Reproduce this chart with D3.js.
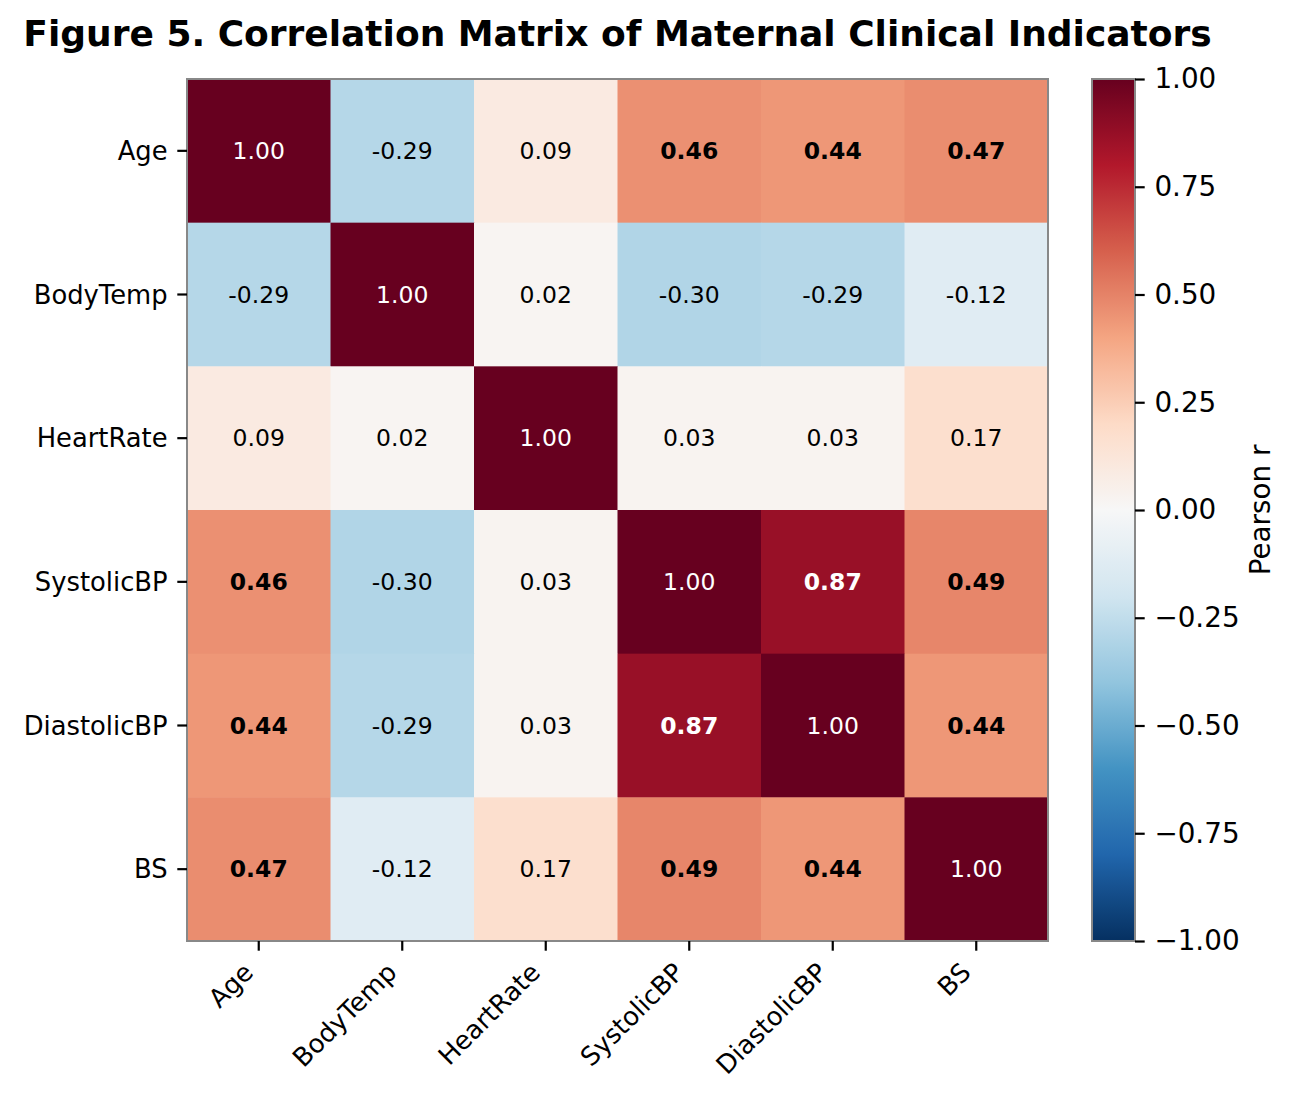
<!DOCTYPE html>
<html>
<head>
<meta charset="utf-8">
<script src="https://cdn.jsdelivr.net/npm/d3@7"></script>
<style>
  body { margin: 0; background: #fff; }
  svg text { font-family: "DejaVu Sans", sans-serif; }
</style>
</head>
<body>
<div id="chart"></div>
<script>
// variables in row/column order
const variables = ["Age", "BodyTemp", "HeartRate", "SystolicBP", "DiastolicBP", "BS"];

// correlation matrix rows
const rowAge         = [1.00, -0.29, 0.09, 0.46, 0.44, 0.47];
const rowBodyTemp    = [-0.29, 1.00, 0.02, -0.30, -0.29, -0.12];
const rowHeartRate   = [0.09, 0.02, 1.00, 0.03, 0.03, 0.17];
const rowSystolicBP  = [0.46, -0.30, 0.03, 1.00, 0.87, 0.49];
const rowDiastolicBP = [0.44, -0.29, 0.03, 0.87, 1.00, 0.44];
const rowBS          = [0.47, -0.12, 0.17, 0.49, 0.44, 1.00];
const matrix = [rowAge, rowBodyTemp, rowHeartRate, rowSystolicBP, rowDiastolicBP, rowBS];

// colorbar ticks
const cbarTicks = [1.00, 0.75, 0.50, 0.25, 0.00, -0.25, -0.50, -0.75, -1.00];

// RdBu_r, matplotlib style (linear between the 11 brewer colors)
const rdbu = ["#053061", "#2166ac", "#4393c3", "#92c5de", "#d1e5f0", "#f7f7f7",
              "#fddbc7", "#f4a582", "#d6604d", "#b2182b", "#67001f"];

const W = 1306, H = 1104;
const margin = {top: 79, left: 187};
const plotW = 861, plotH = 862;

const svg = d3.select("#chart").append("svg")
  .attr("width", W)
  .attr("height", H);

const color = d3.scaleLinear()
  .domain(d3.range(11).map(i => -1 + i * 0.2))
  .range(rdbu)
  .interpolate(d3.interpolateRgb)
  .clamp(true);

const x = d3.scaleBand().domain(variables).range([0, plotW]);
const y = d3.scaleBand().domain(variables).range([0, plotH]);

// title
svg.append("text")
  .attr("x", margin.left + plotW / 2)
  .attr("y", 46)
  .attr("text-anchor", "middle")
  .attr("font-size", 36)
  .attr("font-weight", "bold")
  .text("Figure 5. Correlation Matrix of Maternal Clinical Indicators");

const g = svg.append("g")
  .attr("transform", "translate(" + margin.left + "," + margin.top + ")");

// flatten cells
const cells = [];
matrix.forEach((row, i) => {
  row.forEach((v, j) => {
    cells.push({row: variables[i], col: variables[j], value: v, diag: i === j});
  });
});

g.selectAll("rect.cell")
  .data(cells)
  .enter().append("rect")
  .attr("class", "cell")
  .attr("x", d => x(d.col))
  .attr("y", d => y(d.row))
  .attr("width", x.bandwidth() + 0.5)
  .attr("height", y.bandwidth() + 0.5)
  .attr("fill", d => color(d.value));

g.selectAll("text.val")
  .data(cells)
  .enter().append("text")
  .attr("class", "val")
  .attr("x", d => x(d.col) + x.bandwidth() / 2)
  .attr("y", d => y(d.row) + y.bandwidth() / 2)
  .attr("text-anchor", "middle")
  .attr("dominant-baseline", "central")
  .attr("font-size", 23.5)
  .attr("font-weight", d => (!d.diag && Math.abs(d.value) >= 0.4) ? "bold" : "normal")
  .attr("fill", d => Math.abs(d.value) > 0.6 ? "#ffffff" : "#000000")
  .text(d => d.value.toFixed(2));

// frame
g.append("rect")
  .attr("width", plotW)
  .attr("height", plotH)
  .attr("fill", "none")
  .attr("stroke", "#888888")
  .attr("stroke-width", 2);

// y axis ticks + labels
const tickLen = 9.7;
const yTicks = g.selectAll("g.ytick")
  .data(variables)
  .enter().append("g")
  .attr("class", "ytick")
  .attr("transform", d => "translate(0," + (y(d) + y.bandwidth() / 2) + ")");
yTicks.append("line")
  .attr("x1", -tickLen).attr("x2", 0)
  .attr("stroke", "#000").attr("stroke-width", 2.2);
yTicks.append("text")
  .attr("x", -tickLen - 9.7)
  .attr("text-anchor", "end")
  .attr("dominant-baseline", "central")
  .attr("font-size", 25.8)
  .text(d => d);

// x axis ticks + rotated labels
const xTicks = g.selectAll("g.xtick")
  .data(variables)
  .enter().append("g")
  .attr("class", "xtick")
  .attr("transform", d => "translate(" + (x(d) + x.bandwidth() / 2) + "," + plotH + ")");
xTicks.append("line")
  .attr("y1", 0).attr("y2", tickLen)
  .attr("stroke", "#000").attr("stroke-width", 2.2);
xTicks.append("text")
  .attr("text-anchor", "end")
  .attr("font-size", 25.8)
  .attr("transform", "translate(-4," + (tickLen + 9.7 + 13.5) + ") rotate(-45)")
  .text(d => d);

// colorbar
const cb = {x: 1092, y: 79, w: 43, h: 862};
const cScale = d3.scaleLinear().domain([-1, 1]).range([cb.h, 0]);

const defs = svg.append("defs");
const grad = defs.append("linearGradient")
  .attr("id", "cbgrad")
  .attr("x1", 0).attr("y1", 1).attr("x2", 0).attr("y2", 0);
grad.selectAll("stop")
  .data(d3.range(0, 1.0001, 0.02))
  .enter().append("stop")
  .attr("offset", d => d)
  .attr("stop-color", d => color(-1 + 2 * d));

const cbG = svg.append("g")
  .attr("transform", "translate(" + cb.x + "," + cb.y + ")");
cbG.append("rect")
  .attr("width", cb.w)
  .attr("height", cb.h)
  .attr("fill", "url(#cbgrad)")
  .attr("stroke", "#888888")
  .attr("stroke-width", 2);

const cbAxis = d3.axisRight(cScale)
  .tickValues(cbarTicks)
  .tickSize(tickLen)
  .tickPadding(9.7)
  .tickFormat(d => d3.format(".2f")(d).replace("-", "\u2212"));

const cbAxisG = cbG.append("g")
  .attr("transform", "translate(" + cb.w + ",0)")
  .call(cbAxis);
cbAxisG.select(".domain").remove();
cbAxisG.selectAll(".tick line").attr("stroke", "#000").attr("stroke-width", 2.2);
cbAxisG.selectAll(".tick text")
  .attr("font-size", 27.8)
  .attr("font-family", "DejaVu Sans, sans-serif")
  .attr("fill", "#000");

svg.append("text")
  .attr("transform", "translate(1270," + (cb.y + cb.h / 2) + ") rotate(-90)")
  .attr("text-anchor", "middle")
  .attr("font-size", 27.8)
  .text("Pearson r");
</script>
</body>
</html>
